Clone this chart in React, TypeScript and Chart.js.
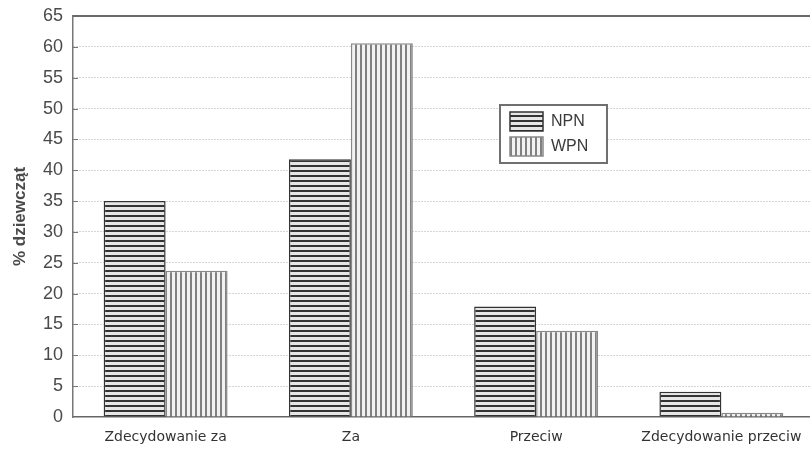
import React, { useEffect, useRef } from "react";
import { Chart, registerables } from "chart.js";

Chart.register(...registerables);

const categories = ["Zdecydowanie za", "Za", "Przeciw", "Zdecydowanie przeciw"];
const seriesLabels = ["NPN", "WPN"];
const npnValues = [35.0, 41.8, 17.9, 4.1];
const wpnValues = [23.7, 60.6, 14.0, 0.7];
const yMin = 0;
const yMax = 65;
const yStep = 5;
const yTitle = "% dziewcząt";

function makePattern(kind: "h" | "v"): CanvasPattern | string {
  const c = document.createElement("canvas");
  c.width = 5;
  c.height = 5;
  const g = c.getContext("2d");
  if (!g) return "#888";
  g.fillStyle = kind === "h" ? "#e6e6e6" : "#f2f2f2";
  g.fillRect(0, 0, 5, 5);
  if (kind === "h") {
    g.fillStyle = "#333333";
    g.fillRect(0, 0, 5, 2);
  } else {
    g.fillStyle = "#808080";
    g.fillRect(0, 0, 2, 5);
  }
  const p = g.createPattern(c, "repeat");
  return p || "#888";
}

export default function App() {
  const ref = useRef<HTMLCanvasElement | null>(null);

  useEffect(() => {
    if (!ref.current) return;
    const hPat = makePattern("h");
    const vPat = makePattern("v");
    const fills = [hPat, vPat];
    const borders = ["#333333", "#888888"];

    const framePlugin = {
      id: "frame",
      afterDraw(chart: any) {
        const { ctx, chartArea } = chart;
        const ys = chart.scales.y;
        ctx.save();
        ctx.strokeStyle = "#6a6a6a";
        ctx.lineWidth = 2;
        ctx.beginPath();
        ctx.moveTo(chartArea.left, chartArea.top);
        ctx.lineTo(chartArea.right, chartArea.top);
        ctx.stroke();
        ctx.strokeStyle = "#777";
        ctx.lineWidth = 1;
        for (let v = yMin + yStep; v < yMax; v += yStep) {
          const py = Math.round(ys.getPixelForValue(v)) + 0.5;
          ctx.beginPath();
          ctx.moveTo(chartArea.left, py);
          ctx.lineTo(chartArea.left + 5, py);
          ctx.stroke();
        }
        const bx = 500, by = 105, bw = 107, bh = 58;
        ctx.fillStyle = "#ffffff";
        ctx.fillRect(bx, by, bw, bh);
        ctx.strokeStyle = "#707070";
        ctx.lineWidth = 2;
        ctx.strokeRect(bx, by, bw, bh);
        const rows = [112, 137];
        ctx.font = "16px 'Liberation Sans', Arial, sans-serif";
        ctx.textBaseline = "middle";
        ctx.textAlign = "left";
        seriesLabels.forEach((lab, i) => {
          const sy = rows[i];
          ctx.fillStyle = fills[i] as any;
          ctx.fillRect(510, sy, 33, 19);
          ctx.strokeStyle = borders[i];
          ctx.lineWidth = 1.5;
          ctx.strokeRect(510, sy, 33, 19);
          ctx.fillStyle = "#3a3a3a";
          ctx.fillText(lab, 551, sy + 10);
        });
        ctx.restore();
      },
    };

    const chart = new Chart(ref.current, {
      type: "bar",
      data: {
        labels: categories,
        datasets: [
          {
            label: seriesLabels[0],
            data: npnValues,
            backgroundColor: hPat as any,
            borderColor: borders[0],
            borderWidth: 1.5,
            categoryPercentage: 0.669,
            barPercentage: 1,
          },
          {
            label: seriesLabels[1],
            data: wpnValues,
            backgroundColor: vPat as any,
            borderColor: borders[1],
            borderWidth: 1.5,
            categoryPercentage: 0.669,
            barPercentage: 1,
          },
        ],
      },
      options: {
        animation: false,
        responsive: false,
        maintainAspectRatio: false,
        devicePixelRatio: 1,
        layout: { padding: { top: 16, right: 6, bottom: 0, left: 0 } },
        plugins: {
          legend: { display: false },
          tooltip: { enabled: false },
          title: { display: false },
        },
        scales: {
          x: {
            grid: { display: true, drawOnChartArea: false, drawTicks: false },
            border: { display: true, color: "#666", width: 1.5 },
            ticks: {
              color: "#333",
              font: { size: 14, family: "'DejaVu Sans', Verdana, sans-serif" },
              padding: 12,
              maxRotation: 0,
              autoSkip: false,
            },
            afterFit(scale: any) {
              scale.height = 33;
              scale.paddingLeft = 0;
              scale.paddingRight = 0;
            },
          },
          y: {
            min: yMin,
            max: yMax,
            ticks: {
              stepSize: yStep,
              color: "#4a4a4a",
              font: { size: 18, family: "'Liberation Sans', Arial, sans-serif" },
              padding: 10,
            },
            grid: {
              drawTicks: false,
              color: (c: any) =>
                c.tick && (c.tick.value === yMin || c.tick.value === yMax) ? "rgba(0,0,0,0)" : "#aaaaaa",
              lineWidth: 1,
            },
            border: { display: true, color: "#777", width: 1.5, dash: [1, 2] },
            title: {
              display: true,
              text: yTitle,
              color: "#4a4a4a",
              font: { size: 17, weight: "bold", family: "'Liberation Sans', Arial, sans-serif" },
              padding: { top: 10, bottom: 0 },
            },
            afterFit(scale: any) {
              scale.width = 73;
              scale.paddingTop = 0;
              scale.paddingBottom = 0;
            },
          },
        },
      },
      plugins: [framePlugin],
    });
    return () => chart.destroy();
  }, []);

  return (
    <div
      style={{
        position: "fixed",
        left: 0,
        top: 0,
        width: 810,
        height: 450,
        overflow: "hidden",
        background: "#fff",
      }}
    >
      <canvas ref={ref} width={820} height={450} style={{ display: "block", width: 820, height: 450 }} />
    </div>
  );
}
